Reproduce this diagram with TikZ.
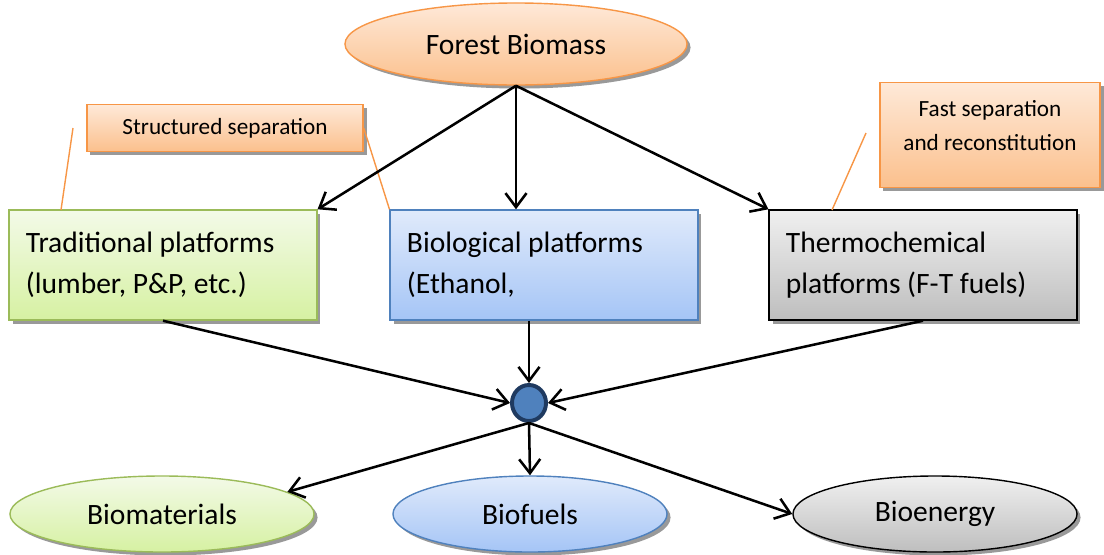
\documentclass[tikz,border=0pt]{standalone}
\usepackage{fontspec}
\setmainfont{Carlito}
\usetikzlibrary{shapes.geometric,shadows,arrows.meta}
\definecolor{orline}{HTML}{F79646}
\definecolor{ortop}{HTML}{FEE9D8}
\definecolor{orbot}{HTML}{FBC08D}
\definecolor{grline}{HTML}{9BBB59}
\definecolor{grtop}{HTML}{F3FAE8}
\definecolor{grbot}{HTML}{D6F1A2}
\definecolor{blline}{HTML}{4F81BD}
\definecolor{bltop}{HTML}{E0EAFB}
\definecolor{blbot}{HTML}{A5C5F6}
\definecolor{gytop}{HTML}{F0F0F0}
\definecolor{gybot}{HTML}{BEBEBE}
\definecolor{hubline}{HTML}{1F3A60}
\tikzset{
	shad/.style={drop shadow={shadow xshift=2.5pt,shadow yshift=-2.5pt,fill=black!40,opacity=1}},
	platbox/.style={rectangle,shad,draw,line width=1pt,text width=6.85cm,inner xsep=0.42cm,
		minimum height=2.75cm,align=flush left,font=\fontsize{21}{29}\selectfont},
	prodell/.style={ellipse,shad,draw,line width=1pt,inner sep=0pt,font=\fontsize{21}{24}\selectfont},
	callout/.style={rectangle,shad,draw=orline,line width=1pt,top color=ortop,bottom color=orbot,
		align=center,inner sep=0pt,font=\fontsize{16.5}{24}\selectfont},
	green/.style={draw=grline,top color=grtop,bottom color=grbot},
	blue/.style={draw=blline,top color=bltop,bottom color=blbot},
	grey/.style={draw=black,top color=gytop,bottom color=gybot},
	flow/.style={line width=1.8pt,->},
}
\begin{document}
\begin{tikzpicture}[x=0.025cm,y=-0.025cm,>={Straight Barb[length=10pt,width=15pt]}]
	\useasboundingbox (0,0) rectangle (1104,554);
	\node[prodell,draw=orline,top color=ortop,bottom color=orbot,minimum width=8.55cm,minimum height=2.05cm] (fb) at (516,44) {Forest Biomass};
	\node[callout,minimum width=6.9cm,minimum height=1.17cm] (sep) at (225,128) {Structured separation};
	\node[callout,minimum width=5.5cm,minimum height=2.62cm] (fast) at (990,135) {Fast separation\\and reconstitution\\[-0.35cm]};
	\node[platbox,green] (trad) at (163,265) {Traditional platforms\\(lumber, P\&P, etc.)};
	\node[platbox,blue] (bio) at (544,265) {Biological platforms\\(Ethanol,};
	\node[platbox,grey] (thermo) at (923,265) {Thermochemical\\platforms (F-T fuels)};
	\node[ellipse,draw=hubline,fill=blline,line width=2.8pt,inner sep=0pt,minimum width=0.85cm,minimum height=0.9cm] (hub) at (529,403) {};
	\node[prodell,green,minimum width=7.6cm,minimum height=1.9cm] (mat) at (162,514) {Biomaterials};
	\node[prodell,blue,minimum width=6.85cm,minimum height=1.9cm] (fuel) at (530,514) {Biofuels};
	\node[prodell,grey,minimum width=7.1cm,minimum height=1.9cm] (ene) at (935,514) {Bioenergy};
	\coordinate (t1) at (73,128);
	\coordinate (t2) at (61,210);
	\coordinate (h1) at (866,133);
	\coordinate (h2) at (832,210);
	\draw[orline,line width=1pt] (t1) -- (t2);
	\draw[orline,line width=1pt] (sep.east) -- (bio.north west);
	\draw[orline,line width=1pt] (h1) -- (h2);
	\draw[flow] (fb.south) -- (trad.north east);
	\draw[flow] (fb.south) -- (fb.south |- bio.north);
	\draw[flow] (fb.south) -- (thermo.north west);
	\draw[flow] (trad.south) -- (hub.west);
	\draw[flow] (hub.north |- bio.south) -- (hub.north);
	\draw[flow] (thermo.south) -- (hub.east);
	\draw[flow] (hub.south) -- (mat.10);
	\draw[flow] (hub.south) -- (fuel.north);
	\draw[flow] (hub.south) -- (ene.west);
\end{tikzpicture}
\end{document}
